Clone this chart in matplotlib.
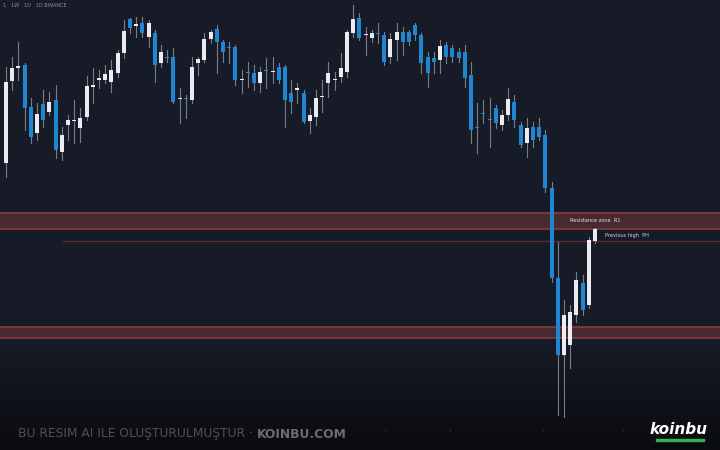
import numpy as np
import matplotlib
matplotlib.use("Agg")
import matplotlib.pyplot as plt
from matplotlib.patches import Rectangle

# ---- data (price units) ----
opens = [287,369,382,385,343,317,346,338,350,298,325,329,322,333,363,370,370,368,377,397,
         431,424,427,413,417,387,393,393,351,352,350,387,390,411,421,408,403,403,370,378,
         377,367,380,378,383,383,357,360,357,329,333,353,367,370,373,378,417,432,415,412,
         417,415,393,410,418,418,425,415,393,392,390,405,402,398,398,375,323,337,331,342,
         325,335,348,325,307,323,323,315,262,172,95,105,135,167,145,209]
closes = [368,382,384,342,313,336,330,348,300,315,330,330,332,364,365,372,376,380,397,419,
          422,426,417,427,385,398,392,348,352,351,383,391,411,418,408,398,402,370,371,377,
          367,378,379,379,370,350,348,362,328,335,352,354,377,371,382,418,431,412,416,417,
          416,388,411,418,408,408,415,387,377,388,404,393,393,392,372,320,322,336,330,327,
          335,351,330,305,322,310,313,262,172,95,135,138,170,140,210,221]
highs = [383,393,408,387,352,347,360,358,365,323,335,350,342,374,382,380,385,390,400,430,
         432,433,433,430,420,405,400,402,362,355,393,393,417,420,425,410,408,405,380,388,
         385,383,392,393,387,385,370,367,360,342,360,370,388,378,397,420,445,437,423,420,
         427,418,417,427,423,420,427,417,398,398,410,408,405,402,405,388,347,350,352,345,
         340,362,355,328,332,328,332,320,268,208,150,145,178,175,213,222]
lows = [273,360,370,320,307,310,323,335,292,290,310,307,308,330,347,362,367,358,373,392,
        417,413,413,403,368,383,388,347,327,332,347,375,388,407,377,388,387,365,357,363,
        360,358,362,367,367,323,337,347,327,317,325,338,353,360,368,373,413,410,395,408,
        407,385,387,390,395,405,410,377,363,377,377,387,388,388,363,307,297,327,303,322,
        320,330,323,303,293,303,310,258,168,35,33,82,128,135,142,207]

resistance_zone = (221, 237)
support_zone = (112, 123)
previous_high = 209
labels = ["Resistance zone  R1", "Previous high  PH"]
header = "1   1W   1D   1D BINANCE"
watermark_a = "BU RESIM AI ILE OLUŞTURULMUŞTUR · "
watermark_b = "KOINBU.COM"

# ---- style ----
BG_TOP = "#171b27"
BG_BOT = "#0a0b0f"
UP = "#e9edf1"
DOWN = "#1f86d2"
WICK = "#9aa0aa"

fig = plt.figure(figsize=(7.2, 4.5), dpi=100)
fig.patch.set_facecolor(BG_TOP)

# gradient background
bg = fig.add_axes([0, 0, 1, 1])
bg.set_axis_off()
h = 450
t = np.clip((np.arange(h) - 340) / 110.0, 0, 1)
c1 = np.array(matplotlib.colors.to_rgb(BG_TOP))
c2 = np.array(matplotlib.colors.to_rgb(BG_BOT))
img = (c1[None, :] * (1 - t[:, None]) + c2[None, :] * t[:, None])[:, None, :]
bg.imshow(img, aspect="auto", extent=[0, 1, 0, 1], origin="upper")
bg.set_xlim(0, 1)
bg.set_ylim(0, 1)

ax = fig.add_axes([0, 0, 1, 1])
ax.set_facecolor("none")
ax.set_axis_off()

n = len(opens)
x = np.arange(n)
step = 6.2
x0 = 6.0
ax.set_xlim(-x0 / step, (720 - x0) / step)
ax.set_ylim(0, 450)

# zones
zcol = "#4b2a31"
ecol = "#8a3a40"
for lo, hi in (resistance_zone, support_zone):
    ax.axhspan(lo, hi, color=zcol, alpha=0.95, zorder=1, lw=0)
    ax.axhline(hi, color=ecol, lw=1.2, zorder=2)
    ax.axhline(lo, color=ecol, lw=1.2, zorder=2)
ax.plot([(63 - x0) / step, (720 - x0) / step], [previous_high, previous_high],
        color="#5e2a32", lw=1.0, zorder=2)

# candles
bw = 0.64
for i in range(n):
    o, c, hi, lo = opens[i], closes[i], highs[i], lows[i]
    up = c >= o
    col = UP if up else DOWN
    ax.plot([x[i], x[i]], [lo, hi], color=WICK, lw=0.8, alpha=0.75, zorder=3)
    bot = min(o, c)
    hgt = max(abs(c - o), 1.5)
    ax.add_patch(Rectangle((x[i] - bw / 2, bot), bw, hgt, facecolor=col,
                           edgecolor="none", zorder=4))

# labels
ax.text((570 - x0) / step, 229.5, labels[0], color="#e6e6e6", fontsize=3.6,
        va="center", ha="left", zorder=5)
ax.text((605 - x0) / step, 215, labels[1], color="#d8d8d8", fontsize=3.6,
        va="center", ha="left", zorder=5)

# header
fig.text(0.004, 0.988, header, color="#8a8f99", fontsize=3.6, va="center", ha="left")

# watermark
ta = fig.text(18 / 720, 1 - 434 / 450, watermark_a, color="#4e5058", fontsize=8.8,
              va="center", ha="left", fontfamily="DejaVu Sans")
fig.canvas.draw()
bb = ta.get_window_extent()
fig.text(bb.x1 / 720, 1 - 434 / 450, watermark_b, color="#6a6c73", fontsize=8.8,
         fontweight="bold", va="center", ha="left")

# bottom faint dots
for px in (385, 450, 543, 623):
    fig.text(px / 720, 1 - 432 / 450, "•", color="#1c1e25", fontsize=6, ha="center", va="center")

# logo
fig.text(679 / 720, 1 - 430 / 450, "koinbu", color="white", fontsize=11,
         fontweight="heavy", fontstyle="italic", ha="center", va="center",
         fontfamily="DejaVu Sans")
bg.add_patch(Rectangle((656 / 720, 1 - 441 / 450), 48 / 720, 2.5 / 450,
                       color="#2db84a", transform=bg.transAxes, zorder=5))

fig.savefig("out.png", dpi=100, facecolor=fig.get_facecolor())
